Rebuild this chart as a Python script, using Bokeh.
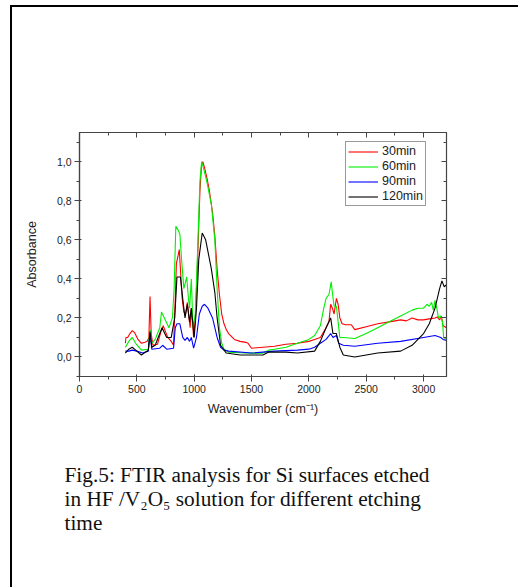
from bokeh.plotting import figure
from bokeh.models import (FixedTicker, CustomJSTickFormatter, LinearAxis, Legend,
                          LegendItem, Title, Range1d, InlineStyleSheet)
from bokeh.embed import file_html
from bokeh.resources import INLINE

x_30 = [400, 405, 420, 440, 460, 480, 510, 540, 570, 590, 605, 615, 625, 640, 680, 710, 730, 750, 770, 800, 820,
        835, 845, 860, 870, 880, 895, 910, 925, 940, 955, 965, 975, 985, 995, 1010, 1030, 1050, 1065, 1075,
        1090, 1110, 1130, 1160, 1180, 1200, 1220, 1240, 1260, 1280, 1300, 1350, 1400, 1450, 1470, 1500, 1600,
        1700, 1800, 1900, 2000, 2050, 2100, 2150, 2175, 2190, 2205, 2220, 2240, 2255, 2270, 2290, 2320, 2370,
        2400, 2500, 2600, 2700, 2800, 2850, 2900, 2950, 3000, 3050, 3100, 3120, 3140, 3155, 3170, 3200]
y_30 = [0.07, 0.10, 0.10, 0.12, 0.135, 0.125, 0.09, 0.07, 0.075, 0.08, 0.10, 0.31, 0.12, 0.06, 0.065, 0.13, 0.16, 0.13,
        0.10, 0.08, 0.06, 0.30, 0.48, 0.52, 0.55, 0.45, 0.30, 0.23, 0.22, 0.28, 0.20, 0.15, 0.25, 0.18, 0.10, 0.20,
        0.50, 0.85, 0.99, 1.00, 0.97, 0.92, 0.86, 0.74, 0.62, 0.45, 0.32, 0.22, 0.17, 0.14, 0.12, 0.09, 0.08, 0.075,
        0.07, 0.045, 0.05, 0.055, 0.065, 0.07, 0.08, 0.09, 0.10, 0.15, 0.18, 0.27, 0.25, 0.22, 0.30, 0.27, 0.20,
        0.17, 0.165, 0.165, 0.14, 0.155, 0.17, 0.18, 0.19, 0.185, 0.20, 0.19, 0.19, 0.195, 0.20, 0.205, 0.19, 0.21,
        0.16, 0.15]

x_60 = [400, 430, 460, 490, 540, 600, 615, 630, 660, 700, 715, 740, 780, 810, 825, 840, 860, 875, 890, 910, 935,
        950, 960, 975, 990, 1010, 1030, 1050, 1065, 1080, 1110, 1150, 1180, 1200, 1220, 1240, 1260, 1300, 1400,
        1500, 1600, 1650, 1700, 1800, 1900, 2000, 2050, 2100, 2130, 2150, 2175, 2195, 2205, 2220, 2240, 2255,
        2270, 2300, 2400, 2500, 2600, 2700, 2800, 2900, 2950, 3000, 3030, 3050, 3070, 3085, 3100, 3115, 3130,
        3150, 3165, 3175, 3200]
y_60 = [0.05, 0.08, 0.10, 0.07, 0.035, 0.04, 0.14, 0.07, 0.09, 0.15, 0.23, 0.20, 0.15, 0.20, 0.35, 0.67, 0.65, 0.63,
        0.50, 0.35, 0.41, 0.30, 0.25, 0.40, 0.15, 0.22, 0.55, 0.90, 1.00, 0.97, 0.90, 0.78, 0.60, 0.35, 0.15, 0.07,
        0.04, 0.025, 0.022, 0.02, 0.02, 0.035, 0.04, 0.05, 0.07, 0.09, 0.11, 0.16, 0.25, 0.30, 0.32, 0.385, 0.33,
        0.26, 0.26, 0.18, 0.10, 0.10, 0.095, 0.12, 0.15, 0.18, 0.21, 0.24, 0.25, 0.25, 0.27, 0.26, 0.28, 0.24, 0.29,
        0.25, 0.20, 0.21, 0.18, 0.10, 0.09]

x_90 = [400, 430, 460, 500, 550, 600, 615, 630, 700, 725, 760, 820, 835, 850, 875, 900, 920, 940, 960, 975, 995,
        1020, 1045, 1070, 1090, 1120, 1160, 1200, 1230, 1260, 1300, 1500, 1700, 1900, 2000, 2050, 2100, 2150,
        2190, 2210, 2240, 2260, 2300, 2400, 2600, 2800, 3000, 3100, 3150, 3170, 3200]
y_90 = [0.03, 0.03, 0.035, 0.03, 0.02, 0.03, 0.12, 0.04, 0.045, 0.06, 0.04, 0.045, 0.15, 0.17, 0.17, 0.10, 0.085,
        0.10, 0.08, 0.10, 0.045, 0.10, 0.22, 0.26, 0.27, 0.25, 0.20, 0.10, 0.05, 0.035, 0.03, 0.02, 0.03, 0.035,
        0.04, 0.05, 0.07, 0.09, 0.12, 0.10, 0.11, 0.07, 0.06, 0.055, 0.07, 0.08, 0.10, 0.11, 0.10, 0.09, 0.085]

x_120 = [400, 430, 460, 500, 540, 600, 615, 630, 660, 700, 720, 760, 800, 830, 850, 880, 900, 920, 940, 960, 975,
         1000, 1020, 1040, 1070, 1100, 1150, 1180, 1200, 1230, 1280, 1400, 1600, 1650, 1800, 1900, 2050, 2100,
         2150, 2190, 2210, 2240, 2270, 2300, 2400, 2600, 2800, 2900, 3000, 3050, 3100, 3140, 3160, 3180, 3200]
y_120 = [0.02, 0.04, 0.05, 0.03, 0.01, 0.035, 0.13, 0.05, 0.06, 0.12, 0.15, 0.10, 0.10, 0.20, 0.41, 0.41, 0.30,
         0.20, 0.27, 0.18, 0.25, 0.10, 0.25, 0.50, 0.635, 0.60, 0.45, 0.33, 0.20, 0.06, 0.02, 0.01, 0.01, 0.025,
         0.025, 0.02, 0.03, 0.08, 0.15, 0.20, 0.12, 0.12, 0.05, 0.01, 0.0, 0.02, 0.03, 0.06, 0.12, 0.17, 0.25,
         0.35, 0.39, 0.36, 0.37]

series_names = ["30min", "60min", "90min", "120min"]
series_colors = ["#ff0000", "#00ee00", "#0000ff", "#000000"]
series_x = [x_30, x_60, x_90, x_120]
series_y = [y_30, y_60, y_90, y_120]

x_major = [0, 500, 1000, 1500, 2000, 2500, 3000]
x_minor = [250, 750, 1250, 1750, 2250, 2750, 3250]
y_major = [0.0, 0.2, 0.4, 0.6, 0.8, 1.0]
y_minor = [-0.1, 0.1, 0.3, 0.5, 0.7, 0.9, 1.1]

x_title = "Wavenumber (cm\u207b\u00b9)"
y_title = "Absorbance"
caption = ("Fig.5: FTIR analysis for Si surfaces etched\n"
           "in HF /V\u2082O\u2085 solution for different etching\n"
           "time")

p = figure(width=518, height=587, output_backend="svg", toolbar_location=None,
           x_range=Range1d(0, 3200), y_range=Range1d(-0.1, 1.15),
           min_border_left=79, min_border_right=72, min_border_top=132, min_border_bottom=211,
           x_axis_location=None, y_axis_location=None)
# page frame: left and top rules drawn by pseudo-elements behind the transparent border area;
# the top rule runs past the right edge and is clipped by the host
p.stylesheets = [InlineStyleSheet(css=(
    ":host { overflow: hidden; }"
    ":host::before { content: ''; position: absolute; left: 10px; top: 5px; "
    "width: 2px; height: 582px; background: #000; pointer-events: none; }"
    ":host::after { content: ''; position: absolute; left: 10px; top: 5px; "
    "width: 600px; height: 2px; background: #000; pointer-events: none; }"))]
p.grid.visible = False
p.outline_line_color = "#444444"
p.outline_line_width = 1.2
p.background_fill_color = "white"
p.border_fill_alpha = 0

fmt = CustomJSTickFormatter(code="return tick.toFixed(1).replace('.', ',');")

xb = LinearAxis(ticker=FixedTicker(ticks=x_major, minor_ticks=x_minor), axis_label=x_title)
yl = LinearAxis(ticker=FixedTicker(ticks=y_major, minor_ticks=y_minor), axis_label=y_title, formatter=fmt)
xt = LinearAxis(ticker=FixedTicker(ticks=x_major, minor_ticks=x_minor))
yr = LinearAxis(ticker=FixedTicker(ticks=y_major, minor_ticks=y_minor))

for ax in (xb, yl):
    ax.major_tick_out = 5
    ax.major_tick_in = 2
    ax.minor_tick_out = 3
    ax.minor_tick_in = 0
    ax.major_label_text_font = "Liberation Sans"
    ax.major_label_text_font_size = "10.5px"
    ax.major_label_text_color = "#222222"
    ax.axis_label_text_font = "Liberation Sans"
    ax.axis_label_text_font_size = "12.5px"
    ax.axis_label_text_font_style = "normal"
    ax.axis_label_text_color = "#222222"
    ax.major_label_standoff = 3
    ax.axis_line_color = "#444444"
    ax.major_tick_line_color = "#444444"
    ax.minor_tick_line_color = "#444444"
    ax.axis_line_width = 1.2
xb.axis_label_standoff = 6
yl.axis_label_standoff = 15

for ax in (xt, yr):
    ax.major_tick_out = 0
    ax.major_tick_in = 5
    ax.minor_tick_out = 0
    ax.minor_tick_in = 3
    ax.major_label_text_font_size = "0px"
    ax.major_label_text_alpha = 0
    ax.axis_line_color = "#444444"
    ax.major_tick_line_color = "#444444"
    ax.minor_tick_line_color = "#444444"

p.add_layout(xb, "below")
p.add_layout(yl, "left")
p.add_layout(xt, "above")
p.add_layout(yr, "right")

items = []
for name, col, xs, ys in zip(series_names, series_colors, series_x, series_y):
    r = p.line(xs, ys, line_color=col, line_width=1.1)
    items.append(LegendItem(label=name, renderers=[r]))

legend = Legend(items=items, location=(266, 170), orientation="vertical",
                label_text_font="Liberation Sans", label_text_font_size="12.5px",
                label_text_color="#222222",
                glyph_width=30, glyph_height=13, label_height=13, spacing=1,
                padding=2, margin=0, label_standoff=4,
                border_line_color="#333333", border_line_width=1.2,
                background_fill_color="white", background_fill_alpha=1.0)
p.add_layout(legend, "center")

cap = Title(text=caption, align="left", offset=-15, standoff=84,
            text_font="Liberation Serif", text_font_size="21.3px",
            text_font_style="normal", text_color="#111111", text_line_height=1.0)
p.add_layout(cap, "below")

open("out.html", "w").write(file_html(p, INLINE))
